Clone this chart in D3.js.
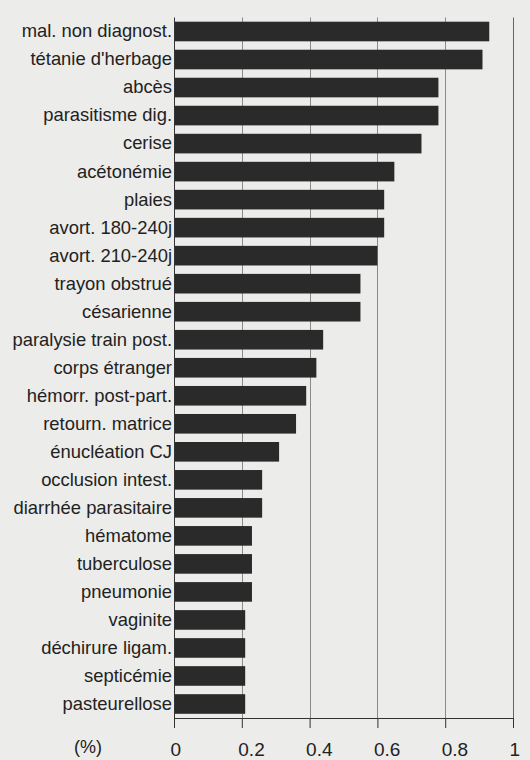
<!DOCTYPE html>
<html>
<head>
<meta charset="utf-8">
<script src="https://cdn.jsdelivr.net/npm/d3@7"></script>
<style>
  html, body { margin: 0; padding: 0; background: #ececea; }
  svg { display: block; }
  text { font-family: "Liberation Sans", Arial, Helvetica, sans-serif; fill: #222; }
</style>
</head>
<body>
<svg id="chart" width="530" height="760"></svg>
<script>
const categories = [
  "mal. non diagnost.", "tétanie d'herbage", "abcès", "parasitisme dig.", "cerise",
  "acétonémie", "plaies", "avort. 180-240j", "avort. 210-240j", "trayon obstrué",
  "césarienne", "paralysie train post.", "corps étranger", "hémorr. post-part.",
  "retourn. matrice", "énucléation CJ", "occlusion intest.", "diarrhée parasitaire",
  "hématome", "tuberculose", "pneumonie", "vaginite", "déchirure ligam.",
  "septicémie", "pasteurellose"
];
const values = [
  0.93, 0.91, 0.78, 0.78, 0.73,
  0.65, 0.62, 0.62, 0.60, 0.55,
  0.55, 0.44, 0.42, 0.39,
  0.36, 0.31, 0.26, 0.26,
  0.23, 0.23, 0.23, 0.21, 0.21,
  0.21, 0.21
];
const tickValues = [0, 0.2, 0.4, 0.6, 0.8, 1];
const tickLabels = ["0", "0.2", "0.4", "0.6", "0.8", "1"];
const unitLabel = "(%)";

const data = categories.map((c, i) => ({ cat: c, val: values[i] }));

const svg = d3.select("#chart");
const mLeft = 174, mRight = 513, mTop = 17.5, mBottom = 718;

const x = d3.scaleLinear().domain([0, 1]).range([mLeft, mRight]);
const y = d3.scaleBand().domain(categories).range([mTop, mBottom]).paddingInner(0.3).paddingOuter(0.15);

// gridlines
svg.append("g").selectAll("line")
  .data(tickValues.slice(1))
  .join("line")
  .attr("x1", d => Math.round(x(d)) + 0.5).attr("x2", d => Math.round(x(d)) + 0.5)
  .attr("y1", mTop).attr("y2", mBottom)
  .attr("stroke", d => d === 1 ? "#666" : "#8a8a8a")
  .attr("stroke-width", 1);

// bars
svg.append("g").selectAll("rect")
  .data(data)
  .join("rect")
  .attr("x", x(0))
  .attr("y", d => y(d.cat))
  .attr("width", d => x(d.val) - x(0))
  .attr("height", y.bandwidth())
  .attr("fill", "#2a2a2a");

// y axis
const yAxis = d3.axisLeft(y).tickSize(0).tickPadding(2);
const gy = svg.append("g").attr("transform", `translate(${x(0)},0)`).call(yAxis);
gy.select(".domain").attr("stroke", "#333").attr("d", `M0.5,${mTop}V${mBottom}`);
gy.selectAll("text").style("font-size", "18.4px").attr("fill", "#222");

// x axis
const xAxis = d3.axisBottom(x).tickValues(tickValues).tickSize(10).tickPadding(0)
  .tickFormat((d, i) => tickLabels[i]);
const gx = svg.append("g").attr("transform", `translate(0,${mBottom})`).call(xAxis);
gx.select(".domain").attr("stroke", "#333").attr("d", `M${mLeft},0.5H${mRight}`);
gx.selectAll(".tick line").attr("stroke", "#333");
gx.selectAll("text").style("font-size", "19px").attr("fill", "#222")
  .attr("text-anchor", "start").attr("x", -4)
  .attr("dy", null).attr("y", 37.5);

svg.append("text")
  .attr("x", 88).attr("y", 753)
  .attr("text-anchor", "middle")
  .style("font-size", "18px")
  .text(unitLabel);
</script>
</body>
</html>
